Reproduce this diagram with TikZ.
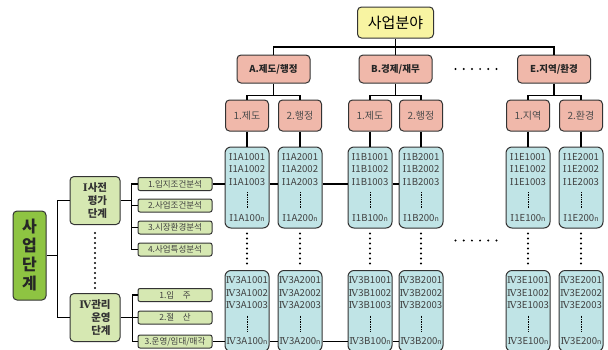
\documentclass[tikz,border=0pt]{standalone}
\usepackage{fontspec}
\setmainfont{Noto Sans CJK KR}
\newfontfamily\romfont{DejaVu Serif}
\usetikzlibrary{positioning}

\definecolor{fieldyellow}{RGB}{248,244,162}
\definecolor{catsalmon}{RGB}{240,184,170}
\definecolor{codecyan}{RGB}{192,228,230}
\definecolor{stagegreen}{RGB}{142,196,66}
\definecolor{phaselight}{RGB}{214,232,178}

% code lines of one column box
\newcommand{\codelist}[1]{#1001\\#1002\\#1003\\[23.5pt]#100{\fontsize{7}{7}\selectfont n}}

\begin{document}
\begin{tikzpicture}[x=1pt,y=-1pt,
    box/.style={draw=black!80,line width=1pt,rounded corners=4pt,inner sep=1pt,align=center},
    field node/.style={box,fill=fieldyellow,minimum width=76pt,minimum height=31pt,font=\fontsize{15}{15}\selectfont},
    cat node/.style={box,fill=catsalmon,minimum width=73pt,minimum height=28pt,font=\fontsize{9.5}{10}\selectfont\bfseries,text=black!85},
    sub node/.style={box,fill=catsalmon,minimum width=43pt,minimum height=31pt,font=\fontsize{10}{10}\selectfont,text=black!70},
    code node/.style={box,fill=codecyan,rounded corners=6pt,minimum width=44pt,minimum height=81pt,inner sep=0.5pt,font=\fontsize{9.6}{12.5}\selectfont,text=black!75},
    stage node/.style={box,fill=stagegreen,minimum width=33pt,minimum height=89pt,font=\fontsize{16}{19}\selectfont\bfseries,text=black!85},
    phase node/.style={box,fill=phaselight,minimum width=50pt,minimum height=48pt,align=right,font=\fontsize{10.5}{13}\selectfont\bfseries,text=black!80},
    task node/.style={box,fill=phaselight,rounded corners=2pt,minimum width=74pt,minimum height=13pt,inner sep=0pt,font=\fontsize{8.5}{9}\selectfont,text=black!75},
    link/.style={line width=1.8pt},
    thin link/.style={line width=1.2pt},
    bigdots/.style={line width=2.2pt,line cap=round,dash pattern=on 0pt off #1},
    bigdots/.default=5pt,
    smalldots/.style={line width=0.6pt,dash pattern=on 0.7pt off 1pt}]

    \useasboundingbox (0,0) rectangle (608,349);

    % Define vertices
    \node[field node] (field) at (395.5,22.5) {사업분야};
    \node[cat node] (catA) at (273.5,69) {A.제도/행정};
    \node[cat node] (catB) at (395.5,69) {B.경제/재무};
    \node[cat node] (catE) at (554,69) {E.지역/환경};

    \foreach \c/\x/\s in {A1/247/1.제도,A2/300/2.행정,B1/370/1.제도,B2/421/2.행정,E1/528/1.지역,E2/581/2.환경}{
        \node[sub node] (\c) at (\x,115.5) {\s};
        \node[code node] (up\c) at (\x,187.5) {\codelist{{\romfont Ⅰ}1\c}};
        \node[code node] (lo\c) at (\x,311) {\codelist{{\romfont Ⅳ}3\c}};
    }

    \node[stage node] (stage) at (29.5,255.5) {사\\업\\단\\계};
    \node[phase node] (ph1) at (95,200.5) {{\romfont Ⅰ}사전\\평가\\단계};
    \node[phase node] (ph4) at (95,317.5) {{\romfont Ⅳ}관리\\운영\\단계};

    \node[task node] (t11) at (175,184) {1.입지조건분석};
    \node[task node] (t12) at (175,205.5) {2.사업조건분석};
    \node[task node] (t13) at (175,227.5) {3.시장환경분석};
    \node[task node] (t14) at (175,249.5) {4.사업특성분석};
    \node[task node] (t41) at (175,295) {1.입\quad 주};
    \node[task node] (t42) at (175,317.5) {2.절\quad 산};
    \node[task node] (t43) at (175,341.5) {3.운영/임대/매각};

    % Draw edges
    \draw[link] (field.south) -- ++(0,8.5) coordinate (top);
    \draw[link] (catA.north) |- (top) -| (catE.north);
    \draw[link] (catB.north) -- (top);
    \foreach \k/\a/\b in {A/A1/A2,B/B1/B2,E/E1/E2}{
        \draw[link] (cat\k.south) -- ++(0,12) coordinate (bus\k);
        \draw[link] (\a.north) |- (bus\k) -| (\b.north);
    }
    \foreach \c in {A1,A2,B1,B2,E1,E2}{
        \draw[thin link] (\c) -- (up\c);
        \draw[bigdots] ([yshift=-5pt]up\c.south) -- ([yshift=5pt]lo\c.north);
        \draw[smalldots] ([yshift=-4.5pt]up\c.center) -- ([yshift=-20.5pt]up\c.center);
        \draw[smalldots] ([yshift=-4.5pt]lo\c.center) -- ([yshift=-20.5pt]lo\c.center);
    }

    \draw[thin link] (stage.east) -- ++(11,0) coordinate (st);
    \draw[thin link] (ph1.west) -| (st) |- (ph4.west);
    \draw[thin link] (ph1.east) -- ++(11,0) coordinate (p1);
    \draw[thin link] (t11.west) -| (p1) |- (t14.west);
    \draw[thin link] (t12.west) -- (t12 -| p1);
    \draw[thin link] (t13.west) -- (t13 -| p1);
    \draw[thin link] (ph4.east) -- ++(12,0) coordinate (p4);
    \draw[thin link] (t41.west) -| (p4) |- (t43.west);
    \draw[thin link] (t42.west) -- (t42 -| p4);

    \draw[thin link] (t11.east) -- (t11 -| upA1.west);
    \draw[thin link] (t11 -| upA1.east) -- (t11 -| upA2.west);
    \draw[thin link] (t11 -| upA2.east) -- (t11 -| upB1.west);
    \draw[thin link] (t11 -| upB1.east) -- (t11 -| upB2.west);
    \draw[thin link] (t43.east) -- (t43 -| loA1.west);
    \draw[thin link] (t43 -| loA1.east) -- (t43 -| loA2.west);
    \draw[thin link] (t43 -| loA2.east) -- (t43 -| loB1.west);
    \draw[thin link] (t43 -| loB1.east) -- (t43 -| loB2.west);

    \draw[bigdots] ([yshift=-8pt]ph1.south) -- ([yshift=5pt]ph4.north);
    \draw[bigdots=8.2pt] ([xshift=23pt]catB.east) -- ([xshift=-20pt]catE.west);
    \draw[bigdots=8.2pt] ([shift={(12,12)}]upB2.south east) -- ([shift={(-8,12)}]upE1.south west);

\end{tikzpicture}
\end{document}
